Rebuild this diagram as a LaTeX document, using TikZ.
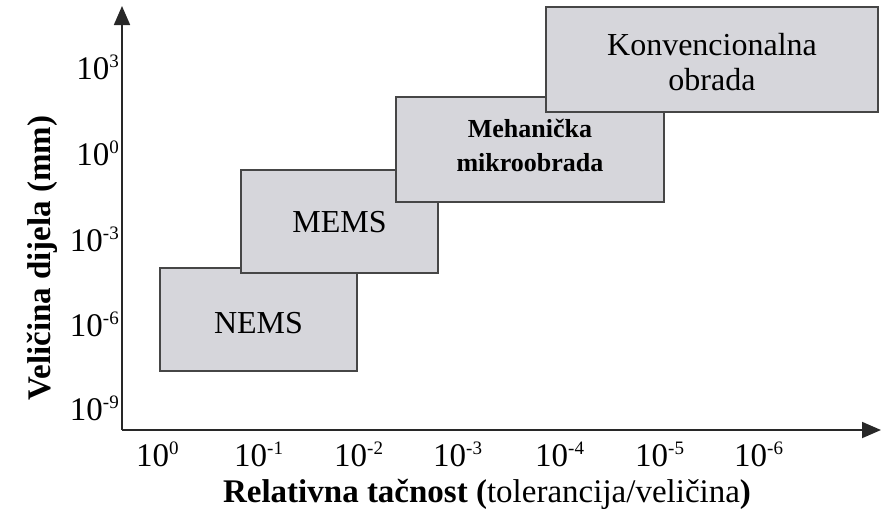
\documentclass[tikz,border=0pt]{standalone}
\usepackage{fontspec}
\setmainfont{Liberation Serif}
\usetikzlibrary{arrows.meta}
\definecolor{boxfill}{RGB}{214,214,219}
\definecolor{boxline}{RGB}{70,70,70}
\definecolor{axisline}{RGB}{40,40,40}
\newcommand{\tenp}[1]{10\raisebox{12pt}{\fontsize{19}{19}\selectfont #1}}
\begin{document}
\begin{tikzpicture}[x=1pt,y=-1pt,
  region/.style={draw=boxline,line width=1.8pt,fill=boxfill,inner sep=0pt},
  boxtext/.style={align=center,inner sep=0pt,font=\fontsize{32}{35}\selectfont},
  tick/.style={font=\fontsize{33}{36}\selectfont,inner sep=0pt},
  axis/.style={draw=axisline,line width=1.8pt,-{Triangle[length=19pt,width=16pt]}},
  title/.style={font=\fontsize{33}{38}\selectfont,inner sep=0pt}]
\useasboundingbox (0,0) rectangle (883,509);
\coordinate (o) at (122,430);
\coordinate (ytip) at (122,6);
\coordinate (xtip) at (881,430);
\draw[axis] (o) -- (ytip);
\draw[axis] (o) -- (xtip);
% boxes (later ones on top)
\node[region,minimum width=197pt,minimum height=103pt] (nems) at (258.5,319.5) {};
\node[boxtext] (nemst) at (258.5,323) {NEMS};
\node[region,minimum width=197pt,minimum height=103pt] (mems) at (339.5,221.5) {};
\node[boxtext] (memst) at (339.5,222) {MEMS};
\node[region,minimum width=268pt,minimum height=105pt] (meh) at (530,149.5) {};
\node[boxtext,font=\fontsize{26}{34}\selectfont\bfseries] (meht) at (530,145) {Mehanička\\mikroobrada};
\node[region,minimum width=332pt,minimum height=105pt] (konv) at (712,59.5) {};
\node[boxtext] (konvt) at (712,62) {Konvencionalna\\obrada};
% y tick labels
\node[tick,anchor=base east] (y3) at (119,79) {\tenp{3}};
\node[tick,anchor=base east] (y0) at (119,165) {\tenp{0}};
\node[tick,anchor=base east] (ym3) at (119,251) {\tenp{-3}};
\node[tick,anchor=base east] (ym6) at (119,336) {\tenp{-6}};
\node[tick,anchor=base east] (ym9) at (119,420) {\tenp{-9}};
% x tick labels
\node[tick,anchor=base west] (x0) at (136,466) {\tenp{0}};
\node[tick,anchor=base west] (x1) at (234,466) {\tenp{-1}};
\node[tick,anchor=base west] (x2) at (334,466) {\tenp{-2}};
\node[tick,anchor=base west] (x3) at (433,466) {\tenp{-3}};
\node[tick,anchor=base west] (x4) at (535,466) {\tenp{-4}};
\node[tick,anchor=base west] (x5) at (635,466) {\tenp{-5}};
\node[tick,anchor=base west] (x6) at (734,466) {\tenp{-6}};
% axis titles
\node[title,anchor=base] (xt) at (487,502) {\textbf{Relativna tačnost (}tolerancija/veličina\textbf{)}};
\node[title,rotate=90,anchor=base] (yt) at (50,258) {\textbf{Veličina dijela (mm)}};
\end{tikzpicture}
\end{document}
